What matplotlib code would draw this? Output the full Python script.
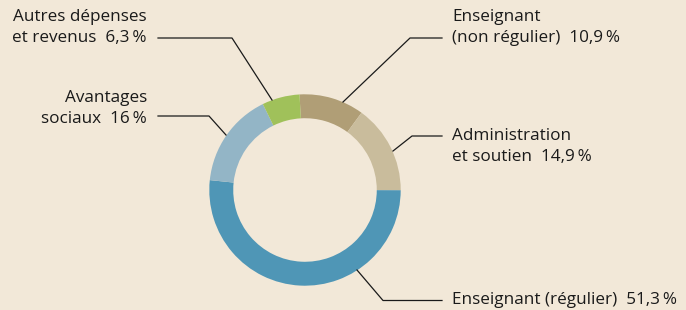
import matplotlib
matplotlib.use("Agg")
import matplotlib.pyplot as plt

# Data
categories = ["Enseignant\n(non régulier)", "Administration\net soutien", "Enseignant (régulier)",
              "Avantages\nsociaux", "Autres dépenses\net revenus"]
values = [10.9, 14.9, 51.3, 16.0, 6.3]
value_labels = ["10,9\u2009%", "14,9\u2009%", "51,3\u2009%", "16\u2009%", "6,3\u2009%"]
colors = ["#b09e76", "#c9bc9c", "#4f96b6", "#93b5c6", "#a0c15a"]

BG = "#f2e8d8"
W, H = 686, 310
fig = plt.figure(figsize=(W / 100, H / 100), dpi=100, facecolor=BG)
ax = fig.add_axes([0, 0, 1, 1])
ax.set_facecolor(BG)

cx, cy, R = 305, H - 190, 95.7
ax.pie(values, colors=colors, startangle=93.3, counterclock=False,
       center=(cx, cy), radius=R, wedgeprops=dict(width=R * 0.25, linewidth=0),
       frame=True)
ax.set_xlim(0, W)
ax.set_ylim(0, H)
ax.set_aspect("equal")
ax.axis("off")

def Y(y):
    return H - y

font = dict(family=["Open Sans", "DejaVu Sans"], fontsize=12.3, color="#1a1a1a")

# label layouts: (text x, align, text center y of first line, line points)
layouts = [
    (452, "left", 17, [(442, 38), (410, 38), (343, 102)]),
    (452, "left", 136, [(442, 136), (412, 136), (393, 151)]),
    (452, "left", 300.5, [(442, 300.5), (383, 300.5), (357, 270)]),
    (147, "right", 98, [(158, 116), (209, 116), (226, 135)]),
    (147, "right", 17, [(158, 38), (232, 38), (272, 100)]),
]

for cat, vl, (tx, ha, ty, pts) in zip(categories, value_labels, layouts):
    lines = cat.split("\n")
    lines[-1] = lines[-1] + "  " + vl
    for i, ln in enumerate(lines):
        ax.text(tx, Y(ty + i * 21), ln, ha=ha, va="center", **font)
    xs = [p[0] for p in pts]
    ys = [Y(p[1]) for p in pts]
    ax.plot(xs, ys, color="#1a1a1a", lw=0.9, solid_joinstyle="round")

fig.savefig("out.png", dpi=100, facecolor=BG)
